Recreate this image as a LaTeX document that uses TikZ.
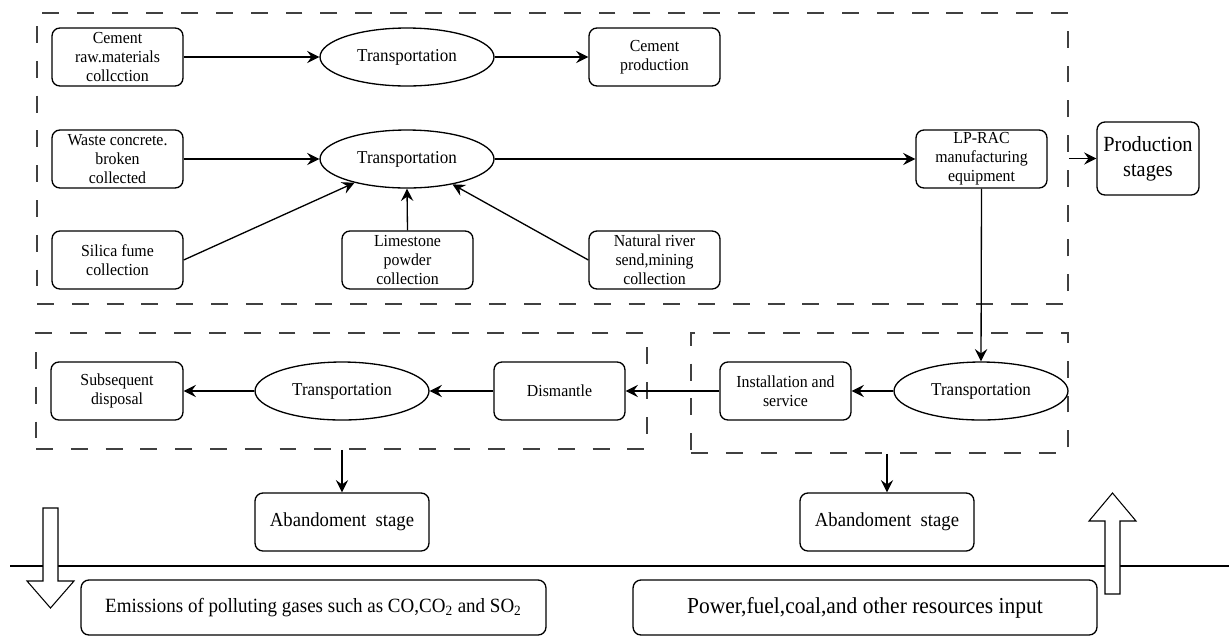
\documentclass[tikz,border=0pt]{standalone}
\usepackage{fontspec}
\setmainfont{Liberation Serif}
\newfontfamily\tnr{Liberation Serif}[FakeStretch=0.94]
\usetikzlibrary{shapes.geometric,arrows.meta}
\tikzset{
  box/.style={draw=black, line width=0.75pt, rounded corners=4.5pt, align=center, inner sep=1pt,
    minimum width=2.62cm, minimum height=1.16cm, font=\tnr\fontsize{9.6}{10.8}\selectfont},
  oval/.style={draw=black, line width=0.75pt, ellipse, inner sep=0pt, align=center,
    minimum width=3.48cm, minimum height=1.16cm, font=\tnr\fontsize{10.3}{11}\selectfont},
  dashbox/.style={draw=black!75, line width=1.1pt, dash pattern=on 9.6pt off 10.2pt, inner sep=0pt},
  arr/.style={line width=0.75pt, -{Stealth[length=7pt,width=7pt,inset=2.5pt]}},
  hollow/.style={draw=black, line width=0.6pt, fill=white}
}
\begin{document}
\begin{tikzpicture}[x=0.02cm,y=-0.02cm]
\useasboundingbox (0,0) rectangle (1229,637);
% dashed frames
\node[dashbox, minimum width=20.62cm, minimum height=5.82cm] (topbox) at (552.5,158.5) {};
\node[dashbox, minimum width=12.22cm, minimum height=2.32cm] (lowL) at (341.5,391) {};
\node[dashbox, minimum width=7.54cm, minimum height=2.4cm] (lowR) at (879.5,393) {};
% production row
\node[box] (cem) at (117.5,57) {Cement\\raw.materials\\collcction};
\node[oval] (t1) at (407,57) {Transportation};
\node[box] (cprod) at (654.5,57) {Cement\\production};
\node[box] (waste) at (117.5,159) {Waste concrete.\\broken\\collected};
\node[oval] (t2) at (407,159) {Transportation};
\node[box] (lprac) at (981.5,159) {LP-RAC\\manufacturing\\equipment};
\node[box, minimum width=2.04cm, minimum height=1.46cm, font=\tnr\fontsize{12.3}{14.2}\selectfont] (prod) at (1148,158.5) {Production\\stages};
\node[box] (silica) at (117.5,260) {Silica fume\\collection};
\node[box] (lime) at (407.5,260) {Limestone\\powder\\collection};
\node[box] (river) at (654.5,260) {Natural river\\send,mining\\collection};
% lower row
\node[box, minimum width=2.64cm] (subs) at (117,391) {Subsequent\\disposal};
\node[oval] (t4) at (342,391) {Transportation};
\node[box] (dism) at (559.5,391) {Dismantle};
\node[box] (inst) at (785.5,391) {Installation and\\service};
\node[oval] (t3) at (981,391) {Transportation};
\node[box, minimum width=3.48cm, font=\tnr\fontsize{11.3}{12}\selectfont] (ab1) at (342,522) {Abandoment\ \ stage};
\node[box, minimum width=3.48cm, font=\tnr\fontsize{11.3}{12}\selectfont] (ab2) at (887,522) {Abandoment\ \ stage};
\node[box, minimum width=9.3cm, minimum height=1.1cm, font=\tnr\fontsize{11.5}{12}\selectfont] (emis) at (313.5,607.5) {Emissions of polluting gases such as CO,CO\textsubscript{2} and SO\textsubscript{2}};
\node[box, minimum width=9.28cm, minimum height=1.1cm, font=\tnr\fontsize{13}{14}\selectfont] (power) at (865,607.5) {Power,fuel,coal,and other resources input};
% connectors
\draw[arr] (cem.east) -- (t1.west);
\draw[arr] (t1.east) -- (cprod.west);
\draw[arr] (waste.east) -- (t2.west);
\draw[arr] (silica.east) -- (t2);
\draw[arr] (lime.north) -- (t2.south);
\draw[arr] (river.west) -- (t2);
\draw[arr] (t2.east) -- (lprac.west);
\draw[arr] (topbox.east |- prod.west) -- (prod.west);
\draw[arr] (lprac.south) -- (t3.north);
\draw[arr] (t3.west) -- (inst.east);
\draw[arr] (inst.west) -- (dism.east);
\draw[arr] (dism.west) -- (t4.east);
\draw[arr] (t4.west) -- (subs.east);
\draw[arr] (lowL.south -| ab1.north) -- (ab1.north);
\draw[arr] (lowR.south -| ab2.north) -- (ab2.north);
% separator line
\coordinate (sepL) at (10,566);
\coordinate (sepR) at (1229,566);
\draw[line width=0.6pt] (sepL) -- (sepR);
% hollow arrows
\draw[hollow] (43,508) -- (58,508) -- (58,581) -- (74,581) -- (50.5,608) -- (27,581) -- (43,581) -- cycle;
\draw[hollow] (1105,594) -- (1120,594) -- (1120,521) -- (1136,521) -- (1112.5,493) -- (1089,521) -- (1105,521) -- cycle;
\end{tikzpicture}
\end{document}
